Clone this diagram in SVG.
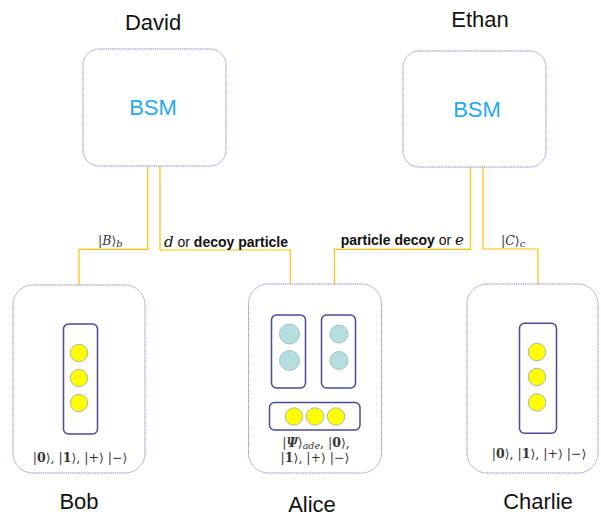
<svg xmlns="http://www.w3.org/2000/svg" width="601" height="521" viewBox="0 0 601 521">
<style>
.outer{fill:#fff;stroke:#8a8ac8;stroke-width:1;stroke-dasharray:1.2 0.6}
.inner{fill:#fff;stroke:#4a4a96;stroke-width:1.5}
.y{fill:#ffff00;stroke:#a9b9a9;stroke-width:1}
.t{fill:#b7dede;stroke:#9fc3c3;stroke-width:1}
.conn{fill:none;stroke:#ffc000;stroke-width:1.2}
.name{font-family:"Liberation Sans",Arial,sans-serif;font-size:22px;fill:#111;text-anchor:middle}
.bsm{font-family:"Liberation Sans",Arial,sans-serif;font-size:22px;fill:#1eaaf0;text-anchor:middle}
.lbl{font-family:"Liberation Sans",Arial,sans-serif;font-size:14px;font-weight:bold;fill:#111}
.nb{font-weight:normal}
.math{font-family:"DejaVu Serif","Liberation Serif",serif;font-size:12.5px;fill:#333}
.mi{font-family:"DejaVu Serif","Liberation Serif",serif;font-style:italic;font-weight:normal;font-size:15px}
.b{font-weight:bold}
.i{font-style:italic}
</style>
<g id="connectors">
<path class="conn" d="M147.7,166 V249.3 H79 V324"/>
<path class="conn" d="M160,166 V250 H290.3 V315"/>
<path class="conn" d="M470.3,167 V249.3 H334.5 V315"/>
<path class="conn" d="M483,167 V249 H538 V323.3"/>
<text class="math" x="98" y="245" font-size="13.5"><tspan>|</tspan><tspan class="i">B</tspan><tspan>⟩</tspan><tspan class="i" font-size="10" dy="2">b</tspan></text>
<text class="lbl" x="164" y="247"><tspan class="mi">d</tspan><tspan class="nb"> or </tspan>decoy particle</text>
<text class="lbl" x="464" y="245" text-anchor="end">particle decoy <tspan class="nb">or </tspan><tspan class="mi">e</tspan></text>
<text class="math" x="501" y="245" font-size="13.5"><tspan>|</tspan><tspan class="i">C</tspan><tspan>⟩</tspan><tspan class="i" font-size="10" dy="2">c</tspan></text>
</g>
<g id="david">
<text class="name" x="153" y="30">David</text>
<rect class="outer" x="83" y="49" width="143" height="117" rx="16"/>
<text class="bsm" x="153" y="115">BSM</text>
</g>
<g id="ethan">
<text class="name" x="480" y="27">Ethan</text>
<rect class="outer" x="403" y="51" width="143" height="116" rx="16"/>
<text class="bsm" x="477" y="117">BSM</text>
</g>
<g id="bob">
<rect class="outer" x="13" y="285" width="132" height="188" rx="20"/>
<rect class="inner" x="63.5" y="324" width="34" height="110" rx="5"/>
<circle class="y" cx="79" cy="353" r="8.7"/>
<circle class="y" cx="79" cy="378" r="8.7"/>
<circle class="y" cx="79" cy="403" r="8.7"/>
<text class="math" x="80" y="462" text-anchor="middle">|<tspan class="b">0</tspan>⟩, |<tspan class="b">1</tspan>⟩, |+⟩ |−⟩</text>
<text class="name" x="79" y="509">Bob</text>
</g>
<g id="alice">
<rect class="outer" x="248.5" y="284" width="133" height="189" rx="20"/>
<rect class="inner" x="271.5" y="315" width="34" height="73" rx="5"/>
<rect class="inner" x="321.5" y="315" width="34" height="73" rx="5"/>
<circle class="t" cx="289.5" cy="334" r="10"/>
<circle class="t" cx="289.5" cy="360.5" r="10"/>
<circle class="t" cx="339" cy="334" r="9"/>
<circle class="t" cx="339" cy="360.5" r="9"/>
<rect class="inner" x="269.5" y="402.5" width="90.5" height="27.5" rx="5"/>
<circle class="y" cx="294" cy="416.5" r="8.7"/>
<circle class="y" cx="315" cy="416.5" r="8.7"/>
<circle class="y" cx="336" cy="416.5" r="8.7"/>
<text class="math" x="316" y="447" text-anchor="middle">|<tspan class="b i">Ψ</tspan>⟩<tspan class="i" font-size="9.5" dy="2">ade</tspan><tspan dy="-2">, |</tspan><tspan class="b">0</tspan>⟩,</text>
<text class="math" x="315" y="462" text-anchor="middle">|<tspan class="b">1</tspan>⟩, |+⟩ |−⟩</text>
<text class="name" x="312" y="512">Alice</text>
</g>
<g id="charlie">
<rect class="outer" x="467" y="284" width="131" height="189" rx="20"/>
<rect class="inner" x="519.5" y="323.3" width="37" height="110" rx="5"/>
<circle class="y" cx="537" cy="352" r="8.7"/>
<circle class="y" cx="537" cy="377" r="8.7"/>
<circle class="y" cx="537" cy="402.5" r="8.7"/>
<text class="math" x="539" y="458" text-anchor="middle">|<tspan class="b">0</tspan>⟩, |<tspan class="b">1</tspan>⟩, |+⟩ |−⟩</text>
<text class="name" x="538" y="509">Charlie</text>
</g>
</svg>
